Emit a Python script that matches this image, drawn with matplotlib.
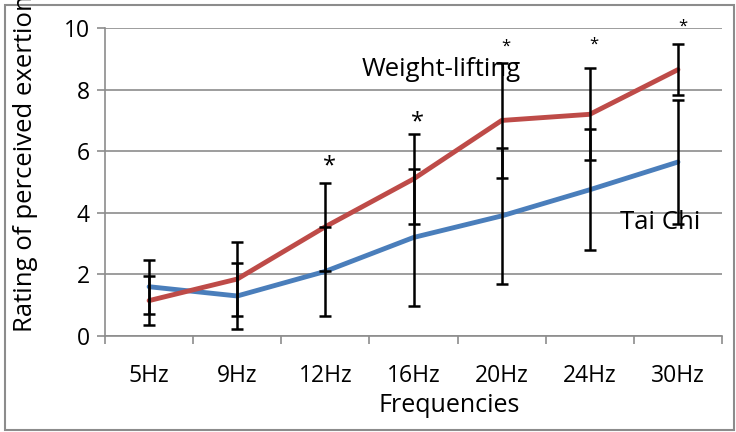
import numpy as np
import matplotlib
matplotlib.use("Agg")
import matplotlib.pyplot as plt
import matplotlib.patches as mpatches

plt.rcParams['font.family'] = ['Open Sans', 'DejaVu Sans']

# data
freqs = ["5Hz", "9Hz", "12Hz", "16Hz", "20Hz", "24Hz", "30Hz"]
tai_chi = [1.6, 1.3, 2.1, 3.2, 3.9, 4.75, 5.65]
tai_chi_err = [0.87, 1.07, 1.45, 2.23, 2.2, 1.97, 2.0]
weight = [1.15, 1.85, 3.55, 5.1, 7.0, 7.2, 8.65]
weight_err = [0.8, 1.2, 1.43, 1.47, 1.88, 1.5, 0.83]
# significance stars: category index and height
star_idx = [2, 3, 4, 5, 6]
star_y = [5.5, 6.95, 9.4, 9.45, 10.05]

blue = "#4A7EBB"
red = "#BE4B48"

fig = plt.figure(figsize=(7.36, 4.32), dpi=100)
ax = fig.add_axes([0.1427, 0.2222, 0.8383, 0.7128])

x = np.arange(len(freqs))
ax.plot(x, tai_chi, color=blue, lw=3.5, zorder=3, solid_capstyle="round")
ax.plot(x, weight, color=red, lw=3.5, zorder=3, solid_capstyle="round")
ax.errorbar(x, tai_chi, yerr=tai_chi_err, fmt="none", ecolor="black",
            elinewidth=1.8, capsize=4.3, capthick=1.8, zorder=4)
ax.errorbar(x, weight, yerr=weight_err, fmt="none", ecolor="black",
            elinewidth=1.8, capsize=4.3, capthick=1.8, zorder=4)

for i, y in zip(star_idx, star_y):
    fs = 17 if i < 4 else 12
    ax.text(x[i] + 0.05, y, "*", ha="center", va="center", fontsize=fs,
            color="black", zorder=5)

ax.text(2.41, 8.64, "Weight-lifting", fontsize=18.5, va="center", ha="left")
ax.text(5.34, 3.7, "Tai Chi", fontsize=18.5, va="center", ha="left")

ax.set_xlim(-0.5, len(freqs) - 0.5)
ax.set_ylim(0, 10)
ax.set_yticks(np.arange(0, 11, 2))
ax.yaxis.grid(True, color="#8c8c8c", lw=1.2)
ax.set_axisbelow(True)

ax.set_xticks(np.arange(-0.5, len(freqs), 1.0))
ax.set_xticklabels([])
ax.set_xticks(x, minor=True)
ax.set_xticklabels(freqs, minor=True, fontsize=16.5)
ax.tick_params(axis="x", which="minor", length=0, pad=20)
ax.tick_params(axis="x", which="major", length=6, width=1.2, color="#8c8c8c")
ax.tick_params(axis="y", length=6, width=1.2, color="#8c8c8c", labelsize=16.5, pad=5)

for side in ["top", "right"]:
    ax.spines[side].set_visible(False)
for side in ["left", "bottom"]:
    ax.spines[side].set_color("#8c8c8c")
    ax.spines[side].set_linewidth(1.2)

# axis titles placed like the original (x title sits right of centre)
fig.text(0.610, 0.062, "Frequencies", fontsize=18, ha="center", va="center")
fig.text(0.034, 0.232, "Rating of perceived exertion", rotation=90,
         fontsize=18.5, ha="center", va="bottom")

# chart border
fig.patches.append(mpatches.Rectangle((0.007, 0.005), 0.99, 0.983,
                                      transform=fig.transFigure, fill=False,
                                      edgecolor="#8c8c8c", lw=1.5))

fig.savefig("out.png", dpi=100)
